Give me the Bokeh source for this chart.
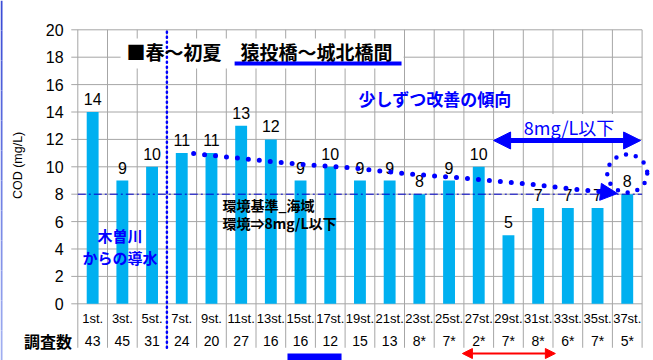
import math
from bokeh.plotting import figure
from bokeh.models import Arrow, NormalHead, ColumnDataSource
from bokeh.core.properties import value
from bokeh.embed import file_html
from bokeh.resources import INLINE

# ---- data ----
stations = ["1st.", "3st.", "5st.", "7st.", "9st.", "11st.", "13st.", "15st.", "17st.",
            "19st.", "21st.", "23st.", "25st.", "27st.", "29st.", "31st.", "33st.", "35st.", "37st."]
cod = [14, 9, 10, 11, 11, 13, 12, 9, 10, 9, 9, 8, 9, 10, 5, 7, 7, 7, 8]
counts = ["43", "45", "31", "24", "20", "27", "16", "16", "12", "15", "13",
          "8*", "7*", "2*", "7*", "8*", "6*", "7*", "5*"]
y_ticks = [0, 2, 4, 6, 8, 10, 12, 14, 16, 18, 20]
standard = 8
# trend (dotted) line
trend_x = [3.90, 6.49, 7.60, 9.11, 10.97, 13.12, 15.35, 16.83]
trend_y = [10.97, 10.39, 10.17, 9.95, 9.51, 9.15, 8.71, 8.34]
trend_tip = (18.17, 8.05)

JP = "Noto Sans CJK JP"
LAT = "Liberation Sans"
BLUE = "#0000ff"
GRID = "#a6a6a6"
BAR = "#00b0f0"

n = len(stations)
xc = [i + 0.5 for i in range(n)]
Y_BOTTOM_GRID = -3.21
TICK_Y = -1.07
COUNT_Y = -2.7

# frame covers the whole canvas; the ranges place the chart area inside it
p = figure(width=653, height=360, x_range=(-2.603, 19.384), y_range=(-4.139, 22.139),
           output_backend="svg", toolbar_location=None,
           min_border_left=0, min_border_right=0, min_border_top=0, min_border_bottom=0,
           x_axis_location=None, y_axis_location=None)
p.outline_line_color = None
p.background_fill_color = "white"
p.border_fill_color = "white"
p.grid.visible = False

# left decorative strip
steps = 12
top_c = (0x3c, 0x4e, 0xd6)
bot_c = (0xa0, 0xae, 0xf0)
ylo, yhi = -4.139, 22.139
for k in range(steps):
    t = k / (steps - 1)
    c = "#%02x%02x%02x" % tuple(int(top_c[j] + (bot_c[j] - top_c[j]) * t) for j in range(3))
    p.quad(left=[-2.603], right=[-2.535], top=[yhi - (yhi - ylo) * k / steps],
           bottom=[yhi - (yhi - ylo) * (k + 1) / steps], fill_color=c, line_color=None)

# grid lines
p.segment(x0=[-0.22] * len(y_ticks), y0=y_ticks, x1=[n] * len(y_ticks), y1=y_ticks,
          line_color=GRID, line_width=1)
gx = list(range(n + 1))
p.segment(x0=gx, y0=[Y_BOTTOM_GRID] * len(gx), x1=gx, y1=[20] * len(gx),
          line_color=GRID, line_width=1)

# y tick labels & axis title
p.text(x=[-0.48] * len(y_ticks), y=y_ticks, text=[str(t) for t in y_ticks],
       text_align="right", text_baseline="middle", text_font=value(LAT),
       text_font_size="16px", text_color="black")
p.text(x=[-2.0], y=[10.1], text=["COD (mg/L)"], angle=math.pi / 2,
       text_align="center", text_baseline="middle", text_font=value(LAT),
       text_font_size="12.5px", text_color="black")

# title white box
p.quad(left=[1.44], right=[10.97], bottom=[17.18], top=[19.36],
       fill_color="white", line_color=None)

# bars
src = ColumnDataSource(dict(x=xc, cod=cod, lab=[str(v) for v in cod],
                            st=stations, cnt=counts))
p.vbar(x="x", top="cod", bottom=0, width=0.4, source=src, fill_color=BAR, line_color=None)

# standard line at 8
p.line(x=[0, n], y=[standard, standard], line_color="#0000cc", line_width=1,
       line_dash="8 3 2 3")

# vertical dotted separator
p.line(x=[3, 3], y=[Y_BOTTOM_GRID, 20], line_color=BLUE, line_width=2.5,
       line_dash="1 4", line_cap="round")

# value labels
p.text(x="x", y="cod", text="lab", source=src, text_align="center",
       text_baseline="bottom", y_offset=-7, text_font=value(LAT),
       text_font_size="16px", text_color="black")

# station labels and counts
p.text(x="x", y=TICK_Y, text="st", source=src, text_align="center",
       text_baseline="middle", text_font=value(LAT), text_font_size="13px",
       text_color="black")
p.text(x="x", y=COUNT_Y, text="cnt", source=src, text_align="center",
       text_baseline="middle", text_font=value(LAT), text_font_size="14px",
       text_color="black")
p.text(x=[-1.0], y=[COUNT_Y], text=["調査数"], text_align="center",
       text_baseline="middle", text_font=value(JP), text_font_size="16px",
       text_font_style="bold", text_color="black")

# title
p.text(x=[1.64], y=[18.42], text=["■春～初夏　猿投橋～城北橋間"], text_align="left",
       text_baseline="middle", text_font=value(JP), text_font_size="19px",
       text_font_style="bold", text_color="black")
p.segment(x0=[5.28], y0=[17.54], x1=[10.9], y1=[17.54], line_color=BLUE, line_width=4)

# annotations
p.text(x=[9.45], y=[14.98], text=["少しずつ改善の傾向"], text_align="left",
       text_baseline="middle", text_font=value(JP), text_font_size="17px",
       text_font_style="bold", text_color=BLUE)

p.text(x=[16.54], y=[12.9], text=["8mg/L以下"], text_align="center",
       text_baseline="middle", text_font=value(JP), text_font_size="18px",
       text_color=BLUE, background_fill_color="white")
p.add_layout(Arrow(x_start=14.0, y_start=11.92, x_end=18.95, y_end=11.92,
                   line_color=BLUE, line_width=5,
                   start=NormalHead(size=17, fill_color=BLUE, line_color=BLUE),
                   end=NormalHead(size=17, fill_color=BLUE, line_color=BLUE)))

p.text(x=[4.87, 4.87], y=[7.18, 5.93], text=["環境基準_海域", "環境⇒8mg/L以下"],
       text_align="left", text_baseline="middle", text_font=value(JP),
       text_font_size="14px", text_font_style="bold", text_color="black")

p.text(x=[1.42, 1.42], y=[4.99, 3.40], text=["木曽川", "からの導水"],
       text_align="center", text_baseline="middle", text_font=value(JP),
       text_font_size="15px", text_font_style="bold", text_color=BLUE)

# trend dotted line with arrow head
p.line(x=trend_x + [trend_tip[0] - 0.3], y=trend_y + [trend_tip[1] + 0.07],
       line_color=BLUE, line_width=5, line_dash="0 11", line_cap="round")
p.add_layout(Arrow(x_start=trend_x[-1], y_start=trend_y[-1], x_end=trend_tip[0],
                   y_end=trend_tip[1], line_alpha=0,
                   end=NormalHead(size=17, fill_color=BLUE, line_color=BLUE)))

# dotted circle around last value
p.ellipse(x=[18.5], y=[9.51], width=40, height=38, width_units="screen",
          height_units="screen", fill_color=None, line_color=BLUE, line_width=4.5,
          line_dash="0 10", line_cap="round")

# markers below the axis
p.quad(left=[7.06], right=[8.88], bottom=[-4.5], top=[-3.63],
       fill_color=BLUE, line_color=None)
p.add_layout(Arrow(x_start=12.95, y_start=-3.63, x_end=16.08, y_end=-3.63,
                   line_color="#ff0000", line_width=2,
                   start=NormalHead(size=10, fill_color="#ff0000", line_color="#ff0000"),
                   end=NormalHead(size=10, fill_color="#ff0000", line_color="#ff0000")))

open("out.html", "w").write(file_html(p, INLINE))
